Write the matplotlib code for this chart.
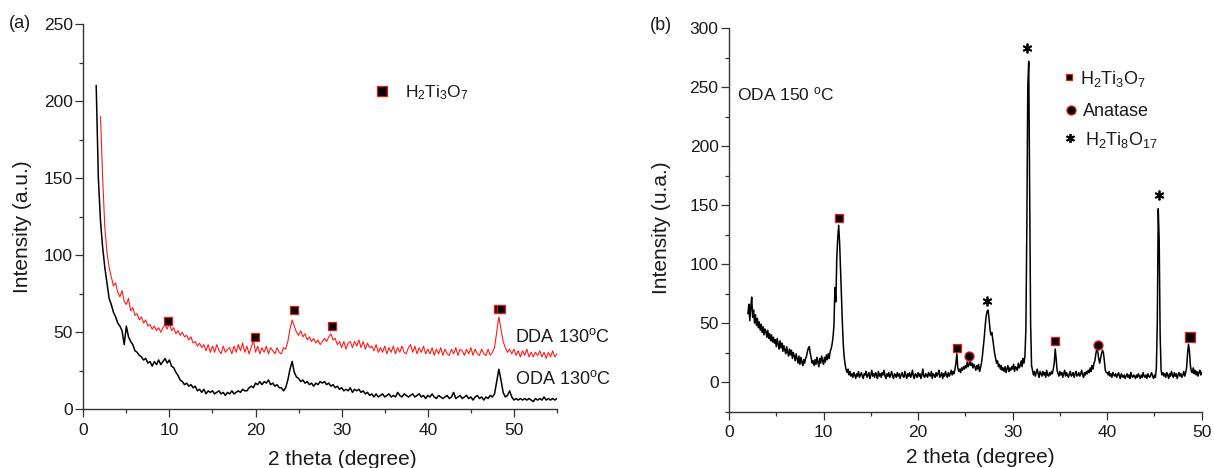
import numpy as np
import matplotlib
matplotlib.use("Agg")
import matplotlib.pyplot as plt
from matplotlib.ticker import MultipleLocator

plt.rcParams['font.family'] = ['Liberation Sans', 'DejaVu Sans']
plt.rcParams['mathtext.fontset'] = 'custom'
plt.rcParams['mathtext.rm'] = 'Liberation Sans'
plt.rcParams['mathtext.it'] = 'Liberation Sans:italic'
plt.rcParams['mathtext.bf'] = 'Liberation Sans:bold'

# ---------------- (a) scans: 2-theta step 0.25 deg ----------------
oda130_start, oda130_step = 1.5, 0.25
oda130 = [
    210, 150,
    122, 105, 92, 82,
    72, 68, 63, 60,
    56, 54, 51, 42,
    54, 47, 44, 42,
    38, 37, 35, 34,
    32, 33, 30, 31,
    28, 31, 29, 32,
    29, 31, 33, 30,
    32, 28, 27, 24,
    22, 19, 18, 16,
    17, 15, 16, 14,
    15, 12, 13, 11,
    13, 10, 12, 11,
    12, 10, 11, 12,
    10, 11, 9, 11,
    10, 12, 10, 11,
    12, 11, 13, 12,
    12, 14, 15, 14,
    17, 16, 18, 16,
    18, 17, 19, 16,
    17, 15, 16, 14,
    14, 12, 14, 19,
    26, 31, 24, 21,
    20, 18, 19, 17,
    18, 16, 17, 15,
    17, 16, 18, 17,
    18, 16, 17, 15,
    16, 14, 15, 13,
    14, 12, 13, 12,
    14, 11, 13, 12,
    13, 11, 12, 10,
    11, 9, 10, 8,
    10, 8, 9, 10,
    8, 9, 10, 8,
    9, 8, 11, 9,
    8, 10, 9, 8,
    9, 10, 8, 9,
    10, 8, 9, 7,
    9, 8, 10, 8,
    7, 9, 8, 7,
    8, 9, 7, 8,
    11, 7, 8, 9,
    7, 8, 9, 7,
    8, 6, 8, 9,
    7, 8, 6, 8,
    7, 9, 8, 10,
    18, 26, 19, 11,
    8, 9, 12, 8,
    6, 7, 6, 7,
    6, 7, 6, 7,
    6, 5, 7, 6,
    7, 6, 8, 6,
    7, 6, 7, 6,
    7,
]

dda130_start, dda130_step = 2.0, 0.25
dda130 = [
    190, 150, 118, 102,
    92, 86, 80, 82,
    76, 73, 77, 70,
    68, 72, 64, 66,
    61, 62, 58, 60,
    56, 58, 54, 55,
    52, 54, 51, 53,
    50, 53, 55, 52,
    56, 51, 53, 49,
    51, 48, 50, 47,
    48, 45, 47, 43,
    44, 41, 43, 40,
    42, 38, 42, 37,
    41, 37, 42, 38,
    36, 41, 37, 39,
    40, 36, 41, 37,
    42, 38, 43, 37,
    41, 36, 40, 45,
    37, 41, 36, 40,
    37, 41, 36, 40,
    38, 36, 40, 37,
    36, 40, 39, 44,
    52, 58, 54, 50,
    48, 51, 47, 49,
    45, 47, 44, 46,
    43, 45, 42, 44,
    46, 44, 47, 49,
    45, 46, 42, 44,
    40, 44, 39, 43,
    44, 40, 44, 41,
    45, 40, 44, 39,
    43, 40, 41, 38,
    42, 37, 40, 37,
    41, 36, 40, 37,
    41, 36, 40, 37,
    41, 37, 36, 40,
    42, 37, 41, 36,
    40, 37, 41, 36,
    39, 36, 40, 35,
    39, 36, 40, 35,
    39, 36, 35, 39,
    36, 40, 35, 39,
    38, 35, 39, 36,
    40, 35, 39, 36,
    35, 39, 36, 35,
    39, 35, 37, 40,
    50, 60, 52, 44,
    40, 37, 39, 36,
    39, 35, 38, 34,
    38, 35, 39, 34,
    37, 34, 37, 35,
    38, 34, 37, 33,
    37, 34, 38, 34,
    36,
]

# H2Ti3O7 reflections marked in (a)
a_h2ti3o7_x = [9.85, 19.95, 24.45, 28.9, 48.15, 48.55]
a_h2ti3o7_y = [57.6, 47.2, 64.5, 54.3, 65.4, 65.4]

# ---------------- (b) scan: 2-theta step 0.1 deg ----------------
oda150_start, oda150_step = 2.0, 0.1
oda150 = [
    58, 66, 52, 63, 72, 55, 61, 50, 57, 48,
    54, 46, 51, 44, 49, 42, 47, 40, 45, 43,
    38, 44, 37, 41, 35, 40, 34, 38, 33, 36,
    30, 37, 32, 28, 35, 29, 33, 26, 31, 27,
    24, 30, 26, 22, 28, 23, 27, 20, 25, 22,
    18, 24, 20, 16, 22, 15, 21, 17, 14, 19,
    16, 20, 22, 26, 29, 30, 24, 20, 16, 18,
    14, 19, 15, 21, 17, 13, 20, 16, 22, 18,
    15, 21, 17, 23, 19, 24, 20, 26, 28, 32,
    38, 48, 80, 68, 105, 122, 133, 118, 95, 72,
    48, 30, 20, 14, 10, 8, 11, 6, 9, 5,
    7, 4, 8, 6, 3, 7, 5, 9, 4, 6,
    8, 5, 3, 7, 6, 9, 4, 6, 8, 3,
    6, 10, 5, 7, 4, 8, 6, 3, 9, 5,
    7, 4, 8, 6, 10, 5, 3, 7, 5, 8,
    4, 6, 9, 5, 3, 7, 6, 4, 8, 5,
    7, 3, 6, 8, 5, 4, 9, 6, 3, 7,
    5, 8, 4, 6, 10, 5, 3, 7, 6, 4,
    8, 5, 7, 3, 6, 11, 5, 4, 7, 6,
    4, 8, 6, 5, 9, 3, 7, 6, 4, 8,
    5, 7, 10, 4, 6, 8, 3, 7, 5, 9,
    6, 4, 8, 5, 7, 10, 6, 9, 7, 11,
    16, 24, 12, 9, 11, 8, 12, 10, 13, 11,
    14, 12, 17, 13, 15, 20, 14, 16, 12, 15,
    13, 10, 14, 11, 15, 9, 12, 16, 22, 30,
    38, 48, 56, 60, 61, 54, 45, 40, 42, 36,
    30, 24, 20, 16, 18, 13, 15, 11, 14, 10,
    12, 9, 13, 8, 11, 14, 9, 12, 10, 13,
    11, 15, 9, 13, 12, 10, 16, 12, 14, 18,
    13, 20, 16, 22, 45, 130, 250, 272, 165, 50,
    14, 10, 6, 9, 5, 8, 11, 7, 4, 9,
    7, 5, 9, 6, 8, 4, 10, 6, 5, 8,
    6, 9, 7, 11, 16, 28, 20, 10, 7, 5,
    9, 6, 8, 4, 7, 10, 5, 8, 6, 4,
    7, 9, 5, 6, 8, 4, 7, 9, 5, 6,
    8, 5, 7, 10, 6, 4, 8, 6, 9, 7,
    10, 8, 12, 9, 14, 11, 16, 18, 24, 28,
    26, 20, 16, 20, 24, 27, 25, 18, 10, 8,
    8, 6, 9, 5, 7, 4, 8, 6, 5, 7,
    4, 6, 8, 5, 3, 7, 5, 4, 6, 3,
    5, 7, 4, 6, 3, 8, 5, 4, 6, 5,
    3, 6, 4, 7, 5, 3, 6, 4, 8, 5,
    4, 6, 3, 7, 5, 4, 6, 8, 5, 3,
    6, 4, 12, 50, 147, 120, 40, 10, 6, 8,
    5, 7, 4, 8, 6, 3, 7, 5, 9, 6,
    4, 8, 5, 7, 3, 6, 8, 5, 7, 4,
    6, 9, 5, 8, 12, 24, 32, 26, 14, 9,
    8, 12, 7, 10, 6, 9, 5, 8, 10, 6,
    8,
]

# phase markers in (b)
b_h2ti3o7_x = [11.62, 24.07, 34.5]
b_h2ti3o7_y = [139.4, 29.0, 35.0]
b_h2ti3o7_big_x = [48.8]
b_h2ti3o7_big_y = [38.0]
b_anatase_x = [25.43, 38.98]
b_anatase_y = [22.3, 31.5]
b_h2ti8o17_x = [27.34, 31.57, 45.44]
b_h2ti8o17_y = [69.0, 283.0, 159.0]

RED = '#ff1a1a'
EDGE_RED = '#e8151b'
INK = '#1a1a1a'
AXC = '#333333'


def scan_x(start, step, values):
    return start + step * np.arange(len(values))


def style_axes(ax):
    for s in ('top', 'right'):
        ax.spines[s].set_visible(False)
    for s in ('left', 'bottom'):
        ax.spines[s].set_color(AXC)
        ax.spines[s].set_linewidth(1.0)
    ax.tick_params(which='major', direction='out', length=5.5, width=0.9,
                   colors=AXC, labelcolor=INK, labelsize=12.5)
    ax.tick_params(which='minor', direction='out', length=3, width=0.9, colors=AXC)
    ax.tick_params(axis='x', which='major', pad=4)
    ax.tick_params(axis='y', which='major', pad=2)


fig = plt.figure(figsize=(12.14, 4.68), dpi=100)

# ---------------- panel (a) ----------------
ax1 = fig.add_axes([0.0686, 0.1254, 0.3902, 0.8233])
ax1.plot(scan_x(oda130_start, oda130_step, oda130), oda130, color='black', lw=1.1)
ax1.plot(scan_x(dda130_start, dda130_step, dda130), dda130, color=RED, lw=0.8)
ax1.plot(a_h2ti3o7_x, a_h2ti3o7_y, ls='none', marker='s', ms=5.5,
         mfc='black', mec=EDGE_RED, mew=0.9)
ax1.plot([34.65], [206.8], ls='none', marker='s', ms=7,
         mfc='black', mec=EDGE_RED, mew=0.9)
ax1.text(37.4, 202.5, r'H$_2$Ti$_3$O$_7$', fontsize=12.5, color=INK,
         ha='left', va='baseline')
ax1.text(50.1, 43.9, r'DDA 130$^{\mathrm{o}}$C', fontsize=13, color=INK,
         ha='left', va='baseline', clip_on=False)
ax1.text(50.1, 16.4, r'ODA 130$^{\mathrm{o}}$C', fontsize=13, color=INK,
         ha='left', va='baseline', clip_on=False)
ax1.set_xlim(0, 55)
ax1.set_ylim(0, 250)
ax1.xaxis.set_major_locator(MultipleLocator(10))
ax1.xaxis.set_minor_locator(MultipleLocator(5))
ax1.yaxis.set_major_locator(MultipleLocator(50))
ax1.yaxis.set_minor_locator(MultipleLocator(25))
style_axes(ax1)
ax1.set_xlabel('2 theta (degree)', fontsize=15, color=INK)
ax1.set_ylabel('Intensity (a.u.)', fontsize=15, color=INK)
ax1.xaxis.set_label_coords((342 - 83.3) / 473.7, -0.1056)
ax1.yaxis.set_label_coords(-0.109, 0.474)

# ---------------- panel (b) ----------------
ax2 = fig.add_axes([0.6005, 0.1207, 0.3894, 0.8188])
ax2.plot(scan_x(oda150_start, oda150_step, oda150), oda150, color='black', lw=1.1)
ax2.plot(b_h2ti3o7_x, b_h2ti3o7_y, ls='none', marker='s', ms=5.5,
         mfc='black', mec=EDGE_RED, mew=0.9)
ax2.plot(b_h2ti3o7_big_x, b_h2ti3o7_big_y, ls='none', marker='s', ms=6.8,
         mfc='black', mec=EDGE_RED, mew=0.9)
ax2.plot(b_anatase_x, b_anatase_y, ls='none', marker='o', ms=6.5,
         mfc='black', mec=EDGE_RED, mew=0.9)
ax2.plot(b_h2ti8o17_x, b_h2ti8o17_y, ls='none', marker=(6, 2, 0), ms=7,
         color='black', mew=1.3)
# phase key
ax2.plot([36.0], [258.3], ls='none', marker='s', ms=4.8,
         mfc='black', mec=EDGE_RED, mew=0.9)
ax2.plot([36.2], [230.7], ls='none', marker='o', ms=6.5,
         mfc='black', mec=EDGE_RED, mew=0.9)
ax2.plot([36.1], [207.0], ls='none', marker=(6, 2, 0), ms=6.5,
         color='black', mew=1.3)
ax2.text(37.16, 253, r'H$_2$Ti$_3$O$_7$', fontsize=13, color=INK,
         ha='left', va='baseline')
ax2.text(37.4, 226, 'Anatase', fontsize=13, color=INK,
         ha='left', va='baseline')
ax2.text(37.65, 201.4, r'H$_2$Ti$_8$O$_{17}$', fontsize=13, color=INK,
         ha='left', va='baseline')
ax2.text(0.83, 238.6, r'ODA 150 $^{\mathrm{o}}$C', fontsize=12.5, color=INK,
         ha='left', va='baseline')
ax2.set_xlim(0, 50)
ax2.set_ylim(-25, 300)
ax2.xaxis.set_major_locator(MultipleLocator(10))
ax2.xaxis.set_minor_locator(MultipleLocator(5))
ax2.set_yticks(np.arange(0, 301, 50))
ax2.yaxis.set_minor_locator(MultipleLocator(25))
style_axes(ax2)
ax2.set_xlabel('2 theta (degree)', fontsize=15, color=INK)
ax2.set_ylabel('Intensity (u.a.)', fontsize=15, color=INK)
ax2.xaxis.set_label_coords((980 - 729) / 472.7, -0.095)
ax2.yaxis.set_label_coords(-0.1235, 0.48)

fig.text(9 / 1214, 1 - 24 / 468, '(a)', fontsize=13, color=INK, ha='left', va='center')
fig.text(650 / 1214, 1 - 26 / 468, '(b)', fontsize=13, color=INK, ha='left', va='center')

fig.savefig('out.png', dpi=100)
